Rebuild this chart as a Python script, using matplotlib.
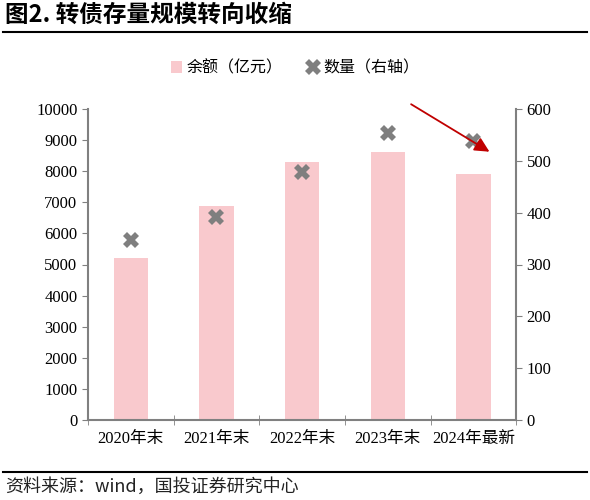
import numpy as np
import matplotlib.pyplot as plt

plt.rcParams['font.family'] = ['Liberation Serif', 'Noto Sans CJK SC']

# 数据
categories = ['2020年末', '2021年末', '2022年末', '2023年末', '2024年最新']
balance = [5210, 6880, 8300, 8620, 7910]   # 余额（亿元）
count = [347, 392, 479, 554, 539]           # 数量（右轴）

fig = plt.figure(figsize=(5.9, 5.0), dpi=100)
ax = fig.add_axes([0.149, 0.160, 0.726, 0.622])
ax2 = ax.twinx()

x = np.arange(len(categories))
ax.bar(x, balance, width=0.4, color='#F9C9CD', label='余额（亿元）', zorder=2)
ax2.plot(x, count, linestyle='none', marker='X', markersize=11,
         color='#7F7F7F', markeredgewidth=0, label='数量（右轴）', zorder=3)

ax.set_xlim(-0.5, len(categories) - 0.5)
ax.set_ylim(0, 10000)
ax.set_yticks(range(0, 10001, 1000))
ax2.set_ylim(0, 600)
ax2.set_yticks(range(0, 601, 100))
ax.set_xticks(x)
ax.set_xticklabels(categories)
ax.set_xticks(np.arange(-0.5, len(categories), 1), minor=True)

axis_grey = '#808080'
for a in (ax, ax2):
    for s in a.spines.values():
        s.set_visible(False)
ax.spines['left'].set_visible(True)
ax.spines['bottom'].set_visible(True)
ax2.spines['right'].set_visible(True)
for s in (ax.spines['left'], ax.spines['bottom'], ax2.spines['right']):
    s.set_color(axis_grey)
    s.set_linewidth(1.5)

ax.tick_params(axis='y', direction='out', length=4, color=axis_grey, labelsize=12)
ax2.tick_params(axis='y', direction='out', length=4, color=axis_grey, labelsize=12)
ax.tick_params(axis='x', which='major', length=0, labelsize=12, pad=8)
ax.tick_params(axis='x', which='minor', direction='inout', length=7, color=axis_grey)

# 图例
h1, l1 = ax.get_legend_handles_labels()
h2, l2 = ax2.get_legend_handles_labels()
fig.legend(h1 + h2, l1 + l2, loc='center', bbox_to_anchor=(0.5, 0.864), ncol=2,
           frameon=False, handlelength=0.7, handletextpad=0.3,
           columnspacing=1.5, prop={'family': ['Noto Sans CJK SC'], 'size': 11.5})

# 箭头
ax2.annotate('', xy=(0.943, 0.858), xytext=(0.749, 1.02), xycoords='axes fraction',
             arrowprops=dict(arrowstyle='-|>', color='#C00000', lw=1.3,
                             mutation_scale=22))

# 标题与来源
fig.text(0.008, 0.970, '图2. 转债存量规模转向收缩', fontsize=17, fontweight='bold',
         family=['Noto Sans CJK SC'], va='center', ha='left')
fig.add_artist(plt.Line2D([0.005, 0.995], [0.936, 0.936], color='black', lw=1.5))
fig.add_artist(plt.Line2D([0.005, 0.995], [0.056, 0.056], color='black', lw=1.5))
fig.text(0.008, 0.026, '资料来源：wind，国投证券研究中心', fontsize=13,
         family=['Noto Sans CJK SC'], style='italic', va='center', ha='left', color='#222222')

fig.savefig('out.png', dpi=100)
